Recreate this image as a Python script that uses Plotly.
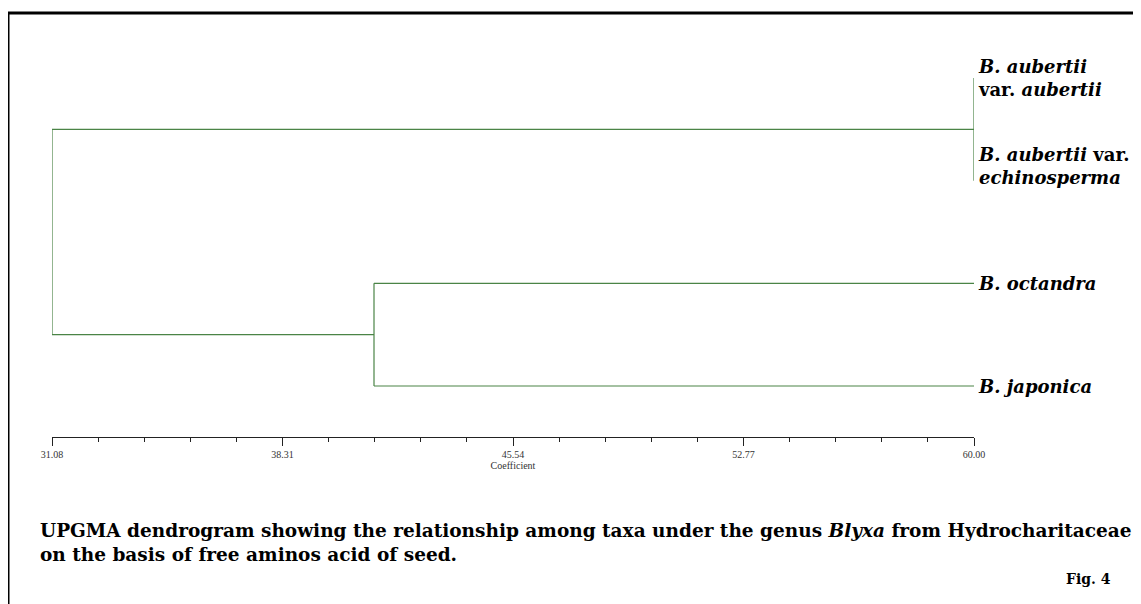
import plotly.graph_objects as go

# ---- data ----
leaf_labels = [
    "<b><i>B. aubertii</i><br>var. <i>aubertii</i></b>",
    "<b><i>B. aubertii</i> var.<br><i>echinosperma</i></b>",
    "<b><i>B. octandra</i></b>",
    "<b><i>B. japonica</i></b>",
]
leaf_pos = [0, 1, 2, 3]
# merge coefficients: (aubertii pair), (octandra+japonica), root
merge_aubertii = 60.00
merge_oct_jap = 41.18
merge_root = 31.08
leaf_coef = 60.00
major_ticks = [31.08, 38.31, 45.54, 52.77, 60.00]
major_labels = ["31.08", "38.31", "45.54", "52.77", "60.00"]

GREEN = "#4a8446"
OFF = 8  # page body margin

fig = go.Figure()

def seg(xs, ys):
    fig.add_trace(go.Scatter(x=xs, y=ys, mode="lines",
                             line=dict(color=GREEN, width=1.2),
                             hoverinfo="skip", showlegend=False))

# cluster A: leaves 0,1 joined at merge_aubertii
yA = (leaf_pos[0] + leaf_pos[1]) / 2
seg([leaf_coef, merge_aubertii], [leaf_pos[0], leaf_pos[0]])
seg([leaf_coef, merge_aubertii], [leaf_pos[1], leaf_pos[1]])
seg([merge_aubertii, merge_aubertii], [leaf_pos[0], leaf_pos[1]])
# cluster B: leaves 2,3 joined at merge_oct_jap
yB = (leaf_pos[2] + leaf_pos[3]) / 2
seg([leaf_coef, merge_oct_jap], [leaf_pos[2], leaf_pos[2]])
seg([leaf_coef, merge_oct_jap], [leaf_pos[3], leaf_pos[3]])
seg([merge_oct_jap, merge_oct_jap], [leaf_pos[2], leaf_pos[3]])
# root
seg([merge_aubertii, merge_root], [yA, yA])
seg([merge_oct_jap, merge_root], [yB, yB])
seg([merge_root, merge_root], [yA, yB])

SERIF = "DejaVu Serif"

# leaf labels
yshifts = [0, 15, 0, 0]
for lab, yp, ys in zip(leaf_labels, leaf_pos, yshifts):
    fig.add_annotation(x=leaf_coef, y=yp, xref="x", yref="y", text=lab,
                       showarrow=False, xanchor="left", yanchor="middle",
                       xshift=2, yshift=ys, align="left",
                       font=dict(family=SERIF, size=18, color="black"))

W, H = 1141 - OFF, 604 - OFF
L, R, T, B = 52 - OFF, 974 - OFF, 40 - OFF, 437 - OFF
def px(xp):
    return (xp - OFF - L) / (R - L)
def py(yp):
    return (B - (yp - OFF)) / (B - T)

# caption
cap = ("<b>UPGMA dendrogram showing the relationship among taxa under the genus <i>Blyxa</i> from Hydrocharitaceae"
       "<br>on the basis of free aminos acid of seed.</b>")
fig.add_annotation(x=px(38), y=py(542), xref="paper", yref="paper", text=cap,
                   showarrow=False, xanchor="left", yanchor="middle", align="left",
                   font=dict(family=SERIF, size=18.5, color="black"))
fig.add_annotation(x=px(1113), y=py(579), xref="paper", yref="paper", text="<b>Fig. 4</b>",
                   showarrow=False, xanchor="right", yanchor="middle",
                   font=dict(family=SERIF, size=14, color="black"))

# frame lines (top and left)
fig.add_shape(type="line", xref="paper", yref="paper",
              x0=px(7), x1=px(1160), y0=py(13), y1=py(13),
              line=dict(color="black", width=3))
fig.add_shape(type="line", xref="paper", yref="paper",
              x0=px(8), x1=px(8), y0=py(12), y1=py(620),
              line=dict(color="black", width=3))

ypx_per_unit = (386 - 78) / 3.0
y_top = leaf_pos[0] - (78 - 40) / ypx_per_unit
y_bot = leaf_pos[3] + (437 - 386) / ypx_per_unit

fig.update_layout(
    width=W, height=H,
    margin=dict(l=L, r=W - R, t=T, b=H - B, pad=0),
    paper_bgcolor="white", plot_bgcolor="white",
    xaxis=dict(range=[31.08, 60.00], tickmode="array", tickvals=major_ticks,
               ticktext=major_labels, ticks="outside", ticklen=8, tickwidth=1,
               tickcolor="#222", showline=True, linecolor="#222", linewidth=1,
               showgrid=False, zeroline=False,
               tickfont=dict(family="Liberation Serif", size=10, color="#333"),
               minor=dict(tick0=31.08, dtick=1.446, ticks="outside", ticklen=4,
                          tickcolor="#222", showgrid=False),
               title=dict(text="Coefficient", standoff=1,
                          font=dict(family="Liberation Serif", size=10, color="#333"))),
    yaxis=dict(range=[y_bot, y_top], visible=False, showgrid=False, zeroline=False),
)

fig.write_html("out.html")
